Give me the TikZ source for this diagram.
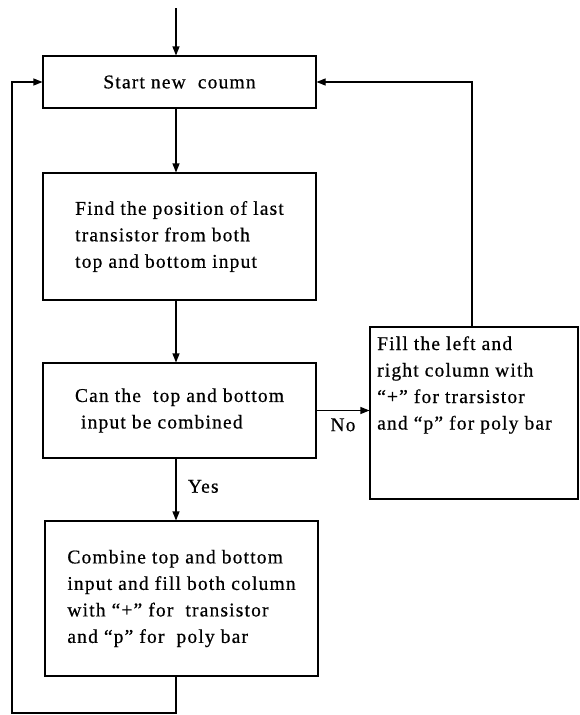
\documentclass[tikz,border=0pt]{standalone}
\usepackage{fontspec}
\setmainfont{Liberation Serif}[LetterSpace=6,FakeBold=0.6]
\usetikzlibrary{arrows.meta}
\begin{document}
\begin{tikzpicture}[x=1pt,y=-1pt,
  every node/.style={font=\fontsize{19.5}{26.5}\selectfont},
  box/.style={draw, line width=1.1pt, inner sep=0pt, align=left, rectangle},
  conn/.style={line width=1.1pt},
  arr/.style={conn, -{Triangle[length=9pt,width=7pt]}}]
\useasboundingbox (0,0) rectangle (579,715);
% boxes
\node[box, minimum width=273pt, minimum height=52pt] (b1) at (179.5,82) {Start new\ \ coumn};
\node[box, minimum width=273pt, minimum height=127pt] (b2) at (179.5,236.5)
  {Find the position of last\\transistor from both\\top and bottom input};
\node[box, minimum width=273pt, minimum height=95pt] (b3) at (179.5,410.5)
  {Can the\ \ top and bottom\\\ input be combined};
\node[box, minimum width=273pt, minimum height=155pt] (b4) at (181.5,598.5)
  {Combine top and bottom\\input and fill both column\\with “+” for\ \ transistor\\and “p” for\ \ poly bar};
\node[box, minimum width=208pt, minimum height=172pt] (fb) at (474,413) {};
\node[align=left, inner sep=0pt, anchor=west] (fbt) at (377,385)
  {Fill the left and\\right column with\\“+”\ for trarsistor\\and “p”\ for poly bar};
% helper coordinates
\coordinate (top) at (176,8);
\coordinate (rx) at (472,0);
\coordinate (bl) at (12,713);
% connectors
\draw[arr] (top) -- (top |- b1.north);
\draw[arr] (b1.south -| top) -- (b2.north -| top);
\draw[arr] (b2.south -| top) -- (b3.north -| top);
\draw[arr] (b3.south -| top) -- node[right=8pt, pos=0.45] (yes) {Yes} (b4.north -| top);
\draw[arr] (b3.east) -- node[below=4pt] (no) {No} (b3.east -| fb.west);
\draw[arr] (fb.north -| rx) |- (b1.east);
\draw[arr] (b4.south -| top) |- (bl) |- (b1.west);
\end{tikzpicture}
\end{document}
